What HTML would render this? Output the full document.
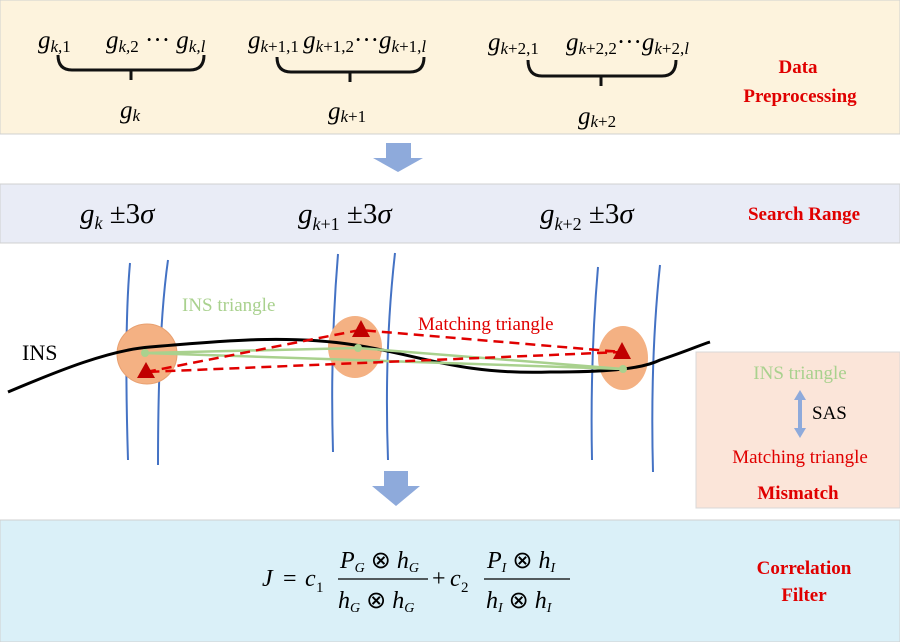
<!DOCTYPE html>
<html><head><meta charset="utf-8"><style>
body{margin:0;width:900px;height:642px;overflow:hidden;background:#fff}
svg{display:block}
text{font-family:"Liberation Serif",serif}
.r{fill:#e00000;font-weight:bold;font-size:19px}
</style></head><body>
<svg width="900" height="642" viewBox="0 0 900 642">
<rect x="0" y="0" width="900" height="134" fill="#fdf3dd" stroke="#d0d0d0"/>
<g font-size="25">
<text x="38" y="48" font-style="italic">g<tspan font-size="17" dy="4">k,</tspan><tspan font-size="17" font-style="normal">1</tspan></text>
<text x="106" y="48" font-style="italic">g<tspan font-size="17" dy="4">k,</tspan><tspan font-size="17" font-style="normal">2</tspan><tspan font-style="normal" dy="-4"> ··· </tspan>g<tspan font-size="17" dy="4">k,l</tspan></text>
<text x="248" y="48" font-style="italic">g<tspan font-size="17" dy="4">k</tspan><tspan font-size="17" font-style="normal">+1,1 </tspan><tspan dy="-4">g</tspan><tspan font-size="17" dy="4">k</tspan><tspan font-size="17" font-style="normal">+1,2</tspan><tspan font-style="normal" dy="-4">···</tspan>g<tspan font-size="17" dy="4">k</tspan><tspan font-size="17" font-style="normal">+1,</tspan><tspan font-size="17">l</tspan></text>
<text x="488" y="50" font-style="italic">g<tspan font-size="17" dy="4">k</tspan><tspan font-size="17" font-style="normal">+2,1</tspan></text>
<text x="566" y="50" font-style="italic">g<tspan font-size="17" dy="4">k</tspan><tspan font-size="17" font-style="normal">+2,2</tspan><tspan font-style="normal" dy="-4">···</tspan>g<tspan font-size="17" dy="4">k</tspan><tspan font-size="17" font-style="normal">+2,</tspan><tspan font-size="17">l</tspan></text>
</g>
<g fill="none" stroke="#111" stroke-width="3">
<path d="M58 55 Q58 70 72 70 L190 70 Q204 70 204 55 M131 70 L131 80"/>
<path d="M277 57 Q277 72 291 72 L410 72 Q424 72 424 57 M350 72 L350 82"/>
<path d="M528 60 Q528 76 542 76 L662 76 Q676 76 676 60 M601 76 L601 86"/>
</g>
<g font-size="25">
<text x="120" y="118" font-style="italic">g<tspan font-size="17" dy="3">k</tspan></text>
<text x="328" y="119" font-style="italic">g<tspan font-size="17" dy="3">k</tspan><tspan font-size="17" font-style="normal">+1</tspan></text>
<text x="578" y="124" font-style="italic">g<tspan font-size="17" dy="3">k</tspan><tspan font-size="17" font-style="normal">+2</tspan></text>
</g>
<text x="798" y="73" text-anchor="middle" class="r">Data</text>
<text x="800" y="102" text-anchor="middle" class="r">Preprocessing</text>
<path d="M386 143 L411 143 L411 158 L423 158 L398 172 L373 158 L386 158 Z" fill="#8eaadb"/>
<rect x="0" y="184" width="900" height="59" fill="#e9ecf6" stroke="#d0d0d0"/>
<g font-size="29">
<text x="80" y="223"><tspan font-style="italic">g</tspan><tspan font-size="18" font-style="italic" dy="6">k</tspan><tspan dy="-6"> ±3</tspan><tspan font-style="italic">σ</tspan></text>
<text x="298" y="223"><tspan font-style="italic">g</tspan><tspan font-size="18" font-style="italic" dy="7">k</tspan><tspan font-size="18">+1</tspan><tspan dy="-7"> ±3</tspan><tspan font-style="italic">σ</tspan></text>
<text x="540" y="223"><tspan font-style="italic">g</tspan><tspan font-size="18" font-style="italic" dy="7">k</tspan><tspan font-size="18">+2</tspan><tspan dy="-7"> ±3</tspan><tspan font-style="italic">σ</tspan></text>
</g>
<text x="804" y="220" text-anchor="middle" class="r">Search Range</text>
<g fill="none" stroke="#4472c4" stroke-width="2">
<path d="M130 263 Q124 330 128 460"/><path d="M168 260 Q158 330 158 465"/>
<path d="M338 254 Q330 350 333 452"/><path d="M395 253 Q384 350 388 460"/>
<path d="M598 267 Q590 360 592 460"/><path d="M660 265 Q650 360 653 472"/>
</g>
<ellipse cx="147" cy="354" rx="30" ry="30" fill="#f4b183" stroke="#e8a070"/>
<ellipse cx="355" cy="347" rx="27" ry="31" fill="#f4b183"/>
<ellipse cx="623" cy="358" rx="25" ry="32" fill="#f4b183"/>
<path d="M8 392 C60 370 110 350 150 347 C230 340 290 335 355 345 C420 355 460 375 550 372 C600 372 640 370 660 360 C690 350 700 345 710 342" fill="none" stroke="#000" stroke-width="3"/>
<text x="22" y="360" font-size="22">INS</text>
<g stroke="#a9d18e" stroke-width="2.5" fill="none">
<path d="M145 353 L358 348 L623 369 Z"/></g>
<g stroke="#e00000" stroke-width="2.5" stroke-dasharray="10 6" fill="none">
<path d="M146 372 L360 330 L622 352 Z"/></g>
<g fill="#c00000">
<path d="M146 362 L155 378 L137 378 Z"/><path d="M361 320 L370 337 L352 337 Z"/><path d="M622 342 L631 359 L613 359 Z"/></g>
<g fill="#a9d18e">
<circle cx="145" cy="353" r="4"/><circle cx="358" cy="348" r="4"/><circle cx="623" cy="369" r="4"/></g>
<text x="182" y="311" font-size="19" fill="#a9d18e">INS triangle</text>
<text x="418" y="330" font-size="19" fill="#e00000">Matching triangle</text>
<rect x="696" y="352" width="204" height="156" fill="#fbe5d9" stroke="#d8d8d8"/>
<text x="800" y="379" text-anchor="middle" font-size="19" fill="#a9d18e">INS triangle</text>
<path d="M800 390 L806 400 L802 400 L802 428 L806 428 L800 438 L794 428 L798 428 L798 400 L794 400 Z" fill="#8eaadb"/>
<text x="812" y="419" font-size="19">SAS</text>
<text x="800" y="463" text-anchor="middle" font-size="19" fill="#e00000">Matching triangle</text>
<text x="798" y="499" text-anchor="middle" class="r">Mismatch</text>
<path d="M384 471 L408 471 L408 486 L420 486 L396 506 L372 486 L384 486 Z" fill="#8eaadb"/>
<rect x="0" y="520" width="900" height="122" fill="#daf0f8" stroke="#d0d0d0"/>
<g font-size="24">
<text x="262" y="586" font-style="italic">J</text><text x="283" y="586">= </text>
<text x="305" y="586" font-style="italic">c</text><text x="316" y="592" font-size="15">1</text>
<text x="340" y="568" font-style="italic">P<tspan font-size="14" dy="4">G</tspan><tspan font-style="normal" dy="-4"> ⊗ </tspan>h<tspan font-size="14" dy="4">G</tspan></text>
<line x1="338" y1="579" x2="428" y2="579" stroke="#000" stroke-width="1.3"/>
<text x="338" y="608" font-style="italic">h<tspan font-size="14" dy="4">G</tspan><tspan font-style="normal" dy="-4"> ⊗ </tspan>h<tspan font-size="14" dy="4">G</tspan></text>
<text x="432" y="586">+</text>
<text x="450" y="586" font-style="italic">c</text><text x="461" y="592" font-size="15">2</text>
<text x="487" y="568" font-style="italic">P<tspan font-size="14" dy="4">I</tspan><tspan font-style="normal" dy="-4"> ⊗ </tspan>h<tspan font-size="14" dy="4">I</tspan></text>
<line x1="484" y1="579" x2="570" y2="579" stroke="#000" stroke-width="1.3"/>
<text x="486" y="608" font-style="italic">h<tspan font-size="14" dy="4">I</tspan><tspan font-style="normal" dy="-4"> ⊗ </tspan>h<tspan font-size="14" dy="4">I</tspan></text>
</g>
<text x="804" y="574" text-anchor="middle" class="r">Correlation</text>
<text x="804" y="601" text-anchor="middle" class="r">Filter</text>
</svg>
</body></html>
